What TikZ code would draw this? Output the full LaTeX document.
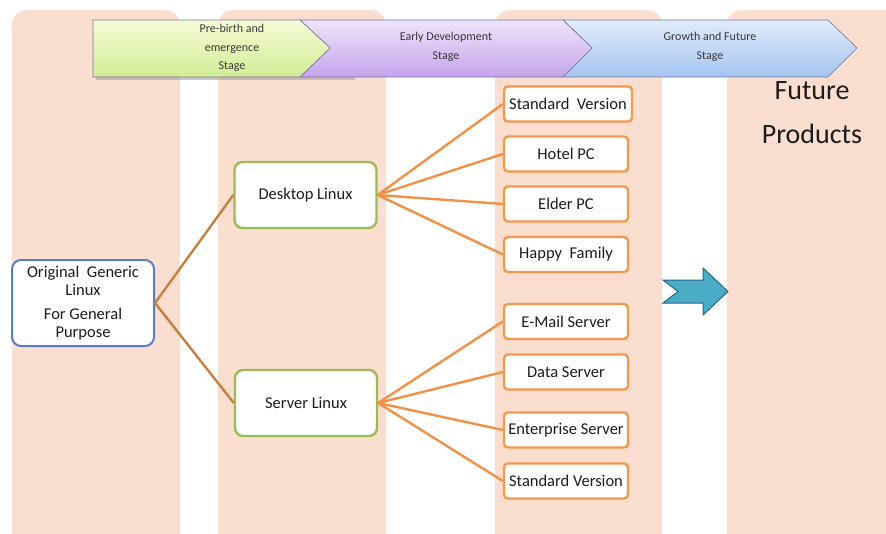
\documentclass[tikz,border=0pt]{standalone}
\usepackage{fontspec}
\setmainfont{Carlito}
\definecolor{colbg}{RGB}{250,222,208}
\definecolor{txt}{RGB}{28,28,28}
\definecolor{bantxt}{RGB}{56,56,56}
\definecolor{banline}{RGB}{110,120,150}
\definecolor{banshadow}{RGB}{170,160,175}
\definecolor{obord}{RGB}{243,152,76}
\definecolor{gbord}{RGB}{155,187,89}
\definecolor{bbord}{RGB}{90,125,190}
\definecolor{brownln}{RGB}{196,128,64}
\definecolor{orangeln}{RGB}{240,145,70}
\definecolor{arrfill}{RGB}{75,172,198}
\definecolor{arrline}{RGB}{40,100,140}
\tikzset{
  column/.style={fill=colbg, draw=none, rounded corners=15pt},
  banshape/.style={draw=banline, line width=0.6pt},
  bantext/.style={text=bantxt, font=\fontsize{12}{18.5}\selectfont, align=center},
  boxtext/.style={text=txt, font=\fontsize{16.5}{18}\selectfont, align=center, inner sep=0pt},
  origbox/.style={boxtext, draw=bbord, line width=2pt, fill=white, rounded corners=9pt, minimum width=142pt, minimum height=86pt},
  midbox/.style={boxtext, draw=gbord, line width=2.4pt, fill=white, rounded corners=8pt, minimum width=142pt, minimum height=66pt},
  leafbox/.style={boxtext, draw=obord, line width=2.4pt, fill=white, rounded corners=4pt, minimum width=124pt, minimum height=35pt},
  brownlink/.style={draw=brownln, line width=2.4pt},
  orangelink/.style={draw=orangeln, line width=2.4pt},
}
\begin{document}
\begin{tikzpicture}[x=1pt,y=-1pt]
\useasboundingbox (0,0) rectangle (886,533);
% columns
\fill[column] (12,560) -- (12,10) -- (180,10) -- (180,560) -- cycle;
\fill[column] (218,560) -- (218,10) -- (386,10) -- (386,560) -- cycle;
\fill[column] (495,560) -- (495,10) -- (662,10) -- (662,560) -- cycle;
\fill[column] (727,560) -- (727,10) -- (910,10) -- (910,560) -- cycle;
% banner shadow
\fill[banshadow, opacity=0.6] (96,77) -- (96,80) -- (355,80) -- (355,77) -- cycle;
% banner
\shade[banshape, top color={rgb,255:red,226;green,236;blue,250}, bottom color={rgb,255:red,165;green,196;blue,240}]
  (563,20) -- (828,20) -- (857,48) -- (828,77) -- (563,77) -- (592,48) -- cycle;
\shade[banshape, top color={rgb,255:red,240;green,228;blue,250}, bottom color={rgb,255:red,196;green,164;blue,236}]
  (300,20) -- (563,20) -- (592,48) -- (563,77) -- (300,77) -- (330,48) -- cycle;
\shade[banshape, top color={rgb,255:red,246;green,251;blue,214}, bottom color={rgb,255:red,210;green,236;blue,150}]
  (93,20) -- (300,20) -- (330,48) -- (300,77) -- (93,77) -- cycle;
\node[bantext] (s1) at (232,48) {Pre-birth and\\emergence\\Stage};
\node[bantext] (s2) at (446,47) {Early Development\\Stage};
\node[bantext] (s3) at (710,47) {Growth and Future\\Stage};
% nodes
\node[origbox] (orig) at (83,303) {Original\ \ Generic\\Linux\\[6pt]For General\\Purpose};
\node[midbox] (desk) at (305.5,195) {Desktop Linux};
\node[midbox] (serv) at (306,403) {Server Linux};
\node[leafbox, minimum width=128pt] (d1) at (568,104) {Standard\ \ Version};
\node[leafbox] (d2) at (566,154) {Hotel PC};
\node[leafbox] (d3) at (566,204) {Elder PC};
\node[leafbox] (d4) at (566,254.5) {Happy\ \ Family};
\node[leafbox] (e1) at (566,321.5) {E-Mail Server};
\node[leafbox] (e2) at (566,372) {Data Server};
\node[leafbox] (e3) at (566,430) {Enterprise Server};
\node[leafbox] (e4) at (566,481) {Standard Version};
% connectors
\draw[brownlink] (orig.east) -- (desk.west);
\draw[brownlink] (orig.east) -- (serv.west);
\foreach \n in {d1,d2,d3,d4} \draw[orangelink] (desk.east) -- (\n.west);
\foreach \n in {e1,e2,e3,e4} \draw[orangelink] (serv.east) -- (\n.west);
% arrow
\draw[fill=arrfill, draw=arrline, line width=1pt, line join=miter]
  (663,280) -- (703,280) -- (703,268) -- (728,291.5) -- (703,315) -- (703,303) -- (663,303) -- (678,291.5) -- cycle;
% future products
\node[text=txt, font=\fontsize{28}{44}\selectfont, align=center] (fut) at (812,113) {Future\\Products};
\end{tikzpicture}
\end{document}
